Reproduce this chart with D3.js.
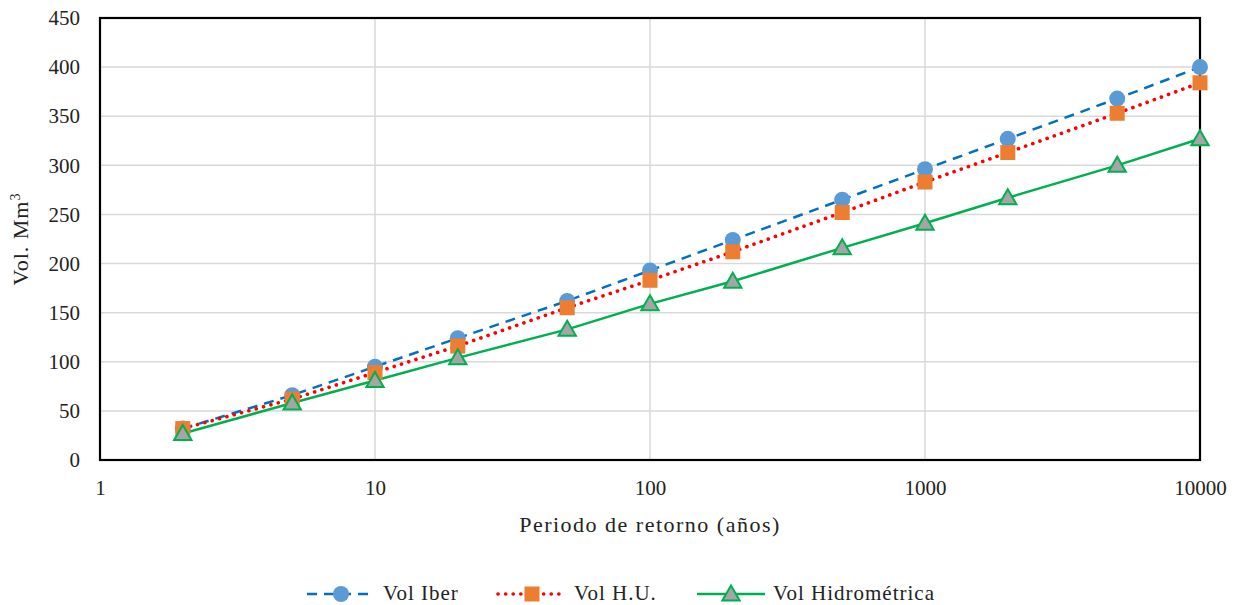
<!DOCTYPE html>
<html><head><meta charset="utf-8">
<script src="https://cdn.jsdelivr.net/npm/d3@7"></script>
<style>body{margin:0;background:#fff}svg{display:block}</style>
</head><body><svg id="c" width="1239" height="605"></svg>
<script>
const periods=[2,5,10,20,50,100,200,500,1000,2000,5000,10000];
const volIber=[32,66,95,124,162,193,224,265,296,327,368,400];
const volHU=[32,62,89,116,155,183,212,252,283,313,353,384];
const volHidro=[27,58,81,104,133,159,182,216,241,267,300,327];
const xTicks=[1,10,100,1000,10000];
const yTicks=[0,50,100,150,200,250,300,350,400,450];

const FONT='"Liberation Serif"';
const svg=d3.select("#c");
const L=100,R=1200,T=18,B=460;
const x=d3.scaleLog().domain([1,10000]).range([L,R]);
const y=d3.scaleLinear().domain([0,450]).range([B,T]);

svg.append("g").selectAll("line").data(yTicks.slice(1)).join("line")
 .attr("x1",L).attr("x2",R).attr("y1",d=>y(d)).attr("y2",d=>y(d))
 .attr("stroke","#d9d9d9").attr("stroke-width",1.5);
svg.append("g").selectAll("line").data(xTicks.slice(1)).join("line")
 .attr("x1",d=>x(d)).attr("x2",d=>x(d)).attr("y1",T).attr("y2",B)
 .attr("stroke","#d9d9d9").attr("stroke-width",1.5);

const ya=svg.append("g").attr("transform",`translate(${L},0)`).call(d3.axisLeft(y).tickValues(yTicks).tickSize(0).tickPadding(20));
ya.select(".domain").remove();
ya.selectAll("text").style("font-family",FONT).style("font-size","21px").attr("fill","#222");
const xa=svg.append("g").attr("transform",`translate(0,${B})`).call(d3.axisBottom(x).tickValues(xTicks).tickFormat(d3.format("d")).tickSize(0).tickPadding(20));
xa.select(".domain").remove();
xa.selectAll("text").style("font-family",FONT).style("font-size","21px").attr("fill","#222");

svg.append("rect").attr("x",L).attr("y",T).attr("width",R-L).attr("height",B-T)
 .attr("fill","none").attr("stroke","#000").attr("stroke-width",2.2);

svg.append("text").attr("x",(L+R)/2).attr("y",532).attr("text-anchor","middle")
 .style("font-family",FONT).style("font-size","22px").style("letter-spacing","1.5px").attr("fill","#222").text("Periodo de retorno (años)");
svg.append("text").attr("transform",`translate(28,239) rotate(-90)`).attr("text-anchor","middle")
 .style("font-family",FONT).style("font-size","22px").style("letter-spacing","1px").attr("fill","#222")
 .html('Vol. Mm<tspan dy="-8" style="font-size:14px">3</tspan>');

const series=[
 {name:"Vol Iber",vals:volIber,color:"#0070c0",dash:"10,7",w:2.5,cap:"butt",marker:"circle",mfill:"#5b9bd5",mstroke:"#5b9bd5"},
 {name:"Vol H.U.",vals:volHU,color:"#ff0000",dash:"0.1,7.5",w:3.6,cap:"round",marker:"square",mfill:"#ed7d31",mstroke:"#ed7d31"},
 {name:"Vol Hidrométrica",vals:volHidro,color:"#00b050",dash:null,w:2.5,cap:"butt",marker:"triangle",mfill:"#a5a5a5",mstroke:"#00b050"}
];
const line=d3.line();
function drawMarker(g,type,cx,cy,s){
 if(type==="circle") g.append("circle").attr("cx",cx).attr("cy",cy).attr("r",8).attr("fill",s.mfill);
 else if(type==="square") g.append("rect").attr("x",cx-7.5).attr("y",cy-7.5).attr("width",15).attr("height",15).attr("fill",s.mfill);
 else g.append("path").attr("d",d3.symbol(d3.symbolTriangle,130)()).attr("transform",`translate(${cx},${cy+1.5})`)
   .attr("fill",s.mfill).attr("stroke",s.mstroke).attr("stroke-width",2);
}
series.forEach(s=>{
 const pts=periods.map((p,i)=>[x(p),y(s.vals[i])]);
 svg.append("path").attr("d",line(pts)).attr("fill","none").attr("stroke",s.color).attr("stroke-width",s.w)
  .attr("stroke-dasharray",s.dash).attr("stroke-linecap",s.cap);
});
series.forEach(s=>{
 const g=svg.append("g");
 periods.forEach((p,i)=>drawMarker(g,s.marker,x(p),y(s.vals[i]),s));
});

const legX=[307,498,697];
series.forEach((s,i)=>{
 const g=svg.append("g");
 const x0=legX[i],x1=x0+68,ly=594;
 g.append("line").attr("x1",x0).attr("x2",x1).attr("y1",ly).attr("y2",ly).attr("stroke",s.color).attr("stroke-width",s.w)
  .attr("stroke-dasharray",s.dash).attr("stroke-linecap",s.cap);
 drawMarker(g,s.marker,(x0+x1)/2,ly,s);
 g.append("text").attr("x",x1+8).attr("y",ly+6).style("font-family",FONT).style("font-size","21px").style("letter-spacing","1px").attr("fill","#222").text(s.name);
});
</script></body></html>
